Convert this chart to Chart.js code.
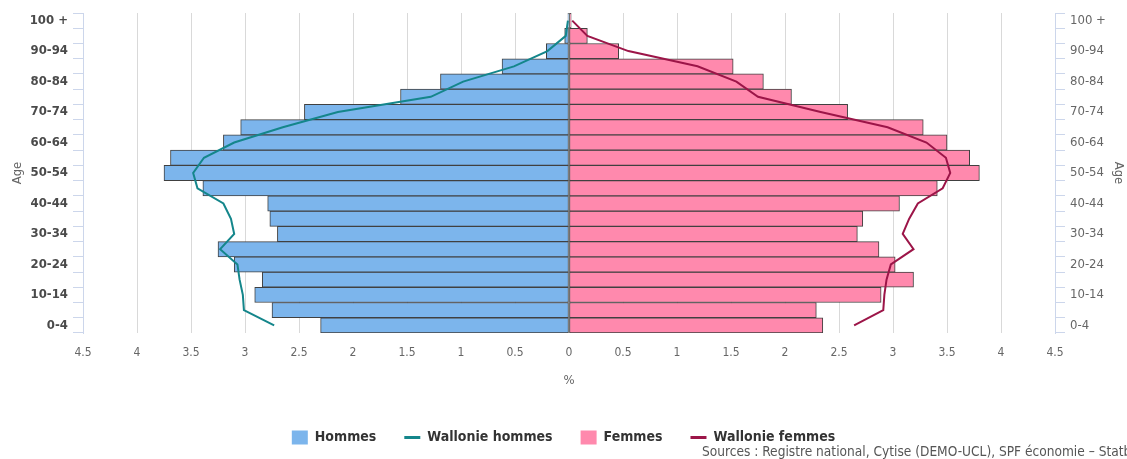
<!DOCTYPE html>
<html><head><meta charset="utf-8">
<script src="https://cdn.jsdelivr.net/npm/chart.js@4"></script>
<style>
html,body{margin:0;padding:0;background:#fff;overflow:hidden;}
#wrap{position:relative;width:1127px;height:459px;overflow:hidden;}
#sources{position:absolute;left:702px;top:443px;font:13.6px "Liberation Sans Narrow","DejaVu Sans Condensed",sans-serif;color:#555;white-space:nowrap;}
</style></head><body>
<div id="wrap"><canvas id="c" width="1127" height="459"></canvas>
<div id="sources">Sources : Registre national, Cytise (DEMO-UCL), SPF économie – Statbel</div></div>
<script>
const ageGroups = ["0-4","5-9","10-14","15-19","20-24","25-29","30-34","35-39","40-44","45-49","50-54","55-59","60-64","65-69","70-74","75-79","80-84","85-89","90-94","95-99","100 +"];
const hommes = [2.30,2.75,2.91,2.84,3.10,3.25,2.70,2.77,2.79,3.39,3.75,3.69,3.20,3.04,2.45,1.56,1.19,0.62,0.21,0.04,0.01];
const femmes = [2.35,2.29,2.89,3.19,3.02,2.87,2.67,2.72,3.06,3.41,3.80,3.71,3.50,3.28,2.58,2.06,1.80,1.52,0.46,0.17,0.02];
const wallonieHommes = [2.73,3.01,3.02,3.05,3.07,3.23,3.10,3.13,3.20,3.44,3.48,3.38,3.10,2.65,2.14,1.28,0.98,0.51,0.20,0.03,0.01];
const wallonieFemmes = [2.64,2.91,2.92,2.94,2.98,3.19,3.09,3.15,3.23,3.46,3.53,3.49,3.31,2.95,2.33,1.75,1.55,1.19,0.55,0.17,0.03];
const xMin = -4.5, xMax = 4.5, xStep = 0.5;

const FAM = '"Liberation Sans Narrow","DejaVu Sans Condensed",sans-serif';
const barCommon = {type:'bar', borderColor:'#404040', borderWidth:1, borderSkipped:false, grouped:false, barPercentage:1, categoryPercentage:1, order:2};
const lineCommon = {type:'line', borderWidth:2, pointRadius:0, pointHoverRadius:0, fill:false, tension:0, order:1};

const catAxis = (pos, color, weight, titlePad, width) => ({
  type:'category', position:pos, labels:ageGroups, reverse:true, offset:true,
  grid:{offset:true, drawOnChartArea:false, drawTicks:true, tickLength:10, color:'#ccd6eb'},
  border:{display:true, color:'#ccd6eb'},
  ticks:{autoSkip:false, padding:5, color:color, font:{family:FAM, size:13, weight:weight},
    callback:(v)=> (v % 2 === 0 ? ageGroups[v] : '')},
  title:{display:true, text:'Age', color:'#666', font:{family:FAM, size:13}, padding:titlePad},
  afterFit:(s)=>{ s.width = width; }
});

new Chart(document.getElementById('c'), {
  type:'bar',
  data:{
    labels:ageGroups,
    datasets:[
      Object.assign({}, barCommon, {label:'Hommes', data:hommes.map(v=>-v), backgroundColor:'#7cb5ec'}),
      Object.assign({}, lineCommon, {label:'Wallonie hommes', data:wallonieHommes.map(v=>-v), borderColor:'#14868b', backgroundColor:'#14868b'}),
      Object.assign({}, barCommon, {label:'Femmes', data:femmes, backgroundColor:'#ff89ad'}),
      Object.assign({}, lineCommon, {label:'Wallonie femmes', data:wallonieFemmes, borderColor:'#9c1548', backgroundColor:'#9c1548'})
    ]
  },
  options:{
    indexAxis:'y', responsive:false, animation:false, devicePixelRatio:1,
    layout:{padding:{top:13, left:0, right:0, bottom:4.5}},
    scales:{
      x:{type:'linear', min:xMin, max:xMax,
        ticks:{stepSize:xStep, maxRotation:0, padding:13, color:'#666', font:{family:FAM, size:12},
          callback:(v)=>String(Math.abs(Math.round(v*10)/10))},
        grid:{color:'#d9d9d9', drawTicks:false},
        border:{display:false},
        title:{display:true, text:'%', color:'#666', font:{family:FAM, size:13}, padding:{top:0, bottom:14}},
        afterFit:(s)=>{ s.height = 69.5; }
      },
      y: catAxis('left', '#4a4a4a', 'bold', {top:10, bottom:0}, 83),
      y2: catAxis('right', '#666', 'normal', {top:1, bottom:0}, 72)
    },
    plugins:{
      tooltip:{enabled:false},
      legend:{position:'bottom',
        labels:{usePointStyle:true, pointStyleWidth:16, boxWidth:16, boxHeight:15, padding:28, color:'#333',
          font:{family:FAM, size:14, weight:'bold'},
          sort:(a,b)=>a.datasetIndex-b.datasetIndex,
          generateLabels:(chart)=>{
            const items = Chart.defaults.plugins.legend.labels.generateLabels(chart);
            items.forEach(it=>{
              const ds = chart.data.datasets[it.datasetIndex];
              if (ds.type === 'bar') { it.pointStyle = 'rect'; it.lineWidth = 0; it.strokeStyle = ds.backgroundColor; it.fillStyle = ds.backgroundColor; }
              else { it.pointStyle = 'line'; it.lineWidth = 3; it.strokeStyle = ds.borderColor; }
            });
            return items;
          }
        }
      }
    }
  }
});
</script>
</body></html>
